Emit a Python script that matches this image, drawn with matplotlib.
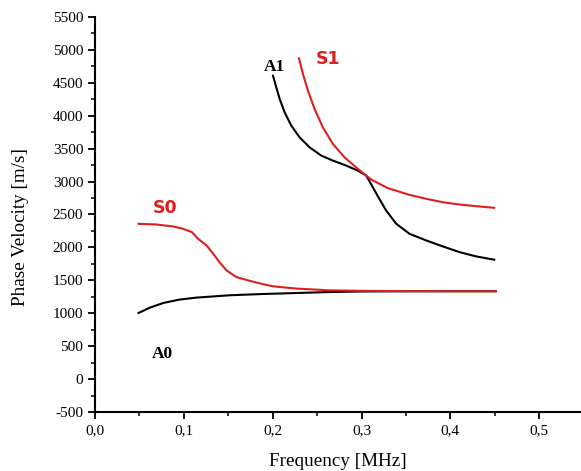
import matplotlib
matplotlib.use('Agg')
import matplotlib.pyplot as plt
from matplotlib.ticker import MultipleLocator, FixedLocator, FixedFormatter

plt.rcParams['font.family'] = 'Liberation Serif'
plt.rcParams['axes.unicode_minus'] = False

# Datos (frecuencia en MHz, velocidad de fase en m/s)
a0_f = [0.049, 0.062, 0.077, 0.095, 0.114, 0.152, 0.189, 0.227, 0.264, 0.30, 0.35, 0.40, 0.451]
a0_v = [1004, 1086, 1156, 1207, 1237, 1273, 1292, 1307, 1322, 1330, 1333, 1334, 1334]

s0_f = [0.049, 0.069, 0.088, 0.099, 0.109, 0.116, 0.1255, 0.133, 0.140, 0.148, 0.159,
        0.172, 0.185, 0.200, 0.227, 0.264, 0.30, 0.35, 0.40, 0.451]
s0_v = [2358, 2348, 2318, 2283, 2232, 2131, 2030, 1904, 1777, 1651, 1550,
        1500, 1455, 1409, 1374, 1348, 1340, 1336, 1334, 1334]

a1_f = [0.2004, 0.2041, 0.2079, 0.2135, 0.221, 0.2303, 0.2416, 0.2547, 0.2678, 0.2828,
        0.2959, 0.3053, 0.3127, 0.3184, 0.3277, 0.339, 0.3539, 0.3727, 0.3914, 0.4101,
        0.4289, 0.4494]
a1_v = [4606, 4428, 4253, 4050, 3848, 3671, 3519, 3394, 3318, 3242,
        3166, 3091, 2913, 2775, 2560, 2359, 2207, 2106, 2015, 1929,
        1863, 1813]

s1_f = [0.2296, 0.2341, 0.2397, 0.2472, 0.2565, 0.2678, 0.2809, 0.2959, 0.3109, 0.3296,
        0.3539, 0.3727, 0.3914, 0.4101, 0.4289, 0.4494]
s1_v = [4873, 4631, 4378, 4101, 3822, 3571, 3368, 3192, 3030, 2900,
        2798, 2738, 2686, 2651, 2626, 2601]

x_ticks = [0.0, 0.1, 0.2, 0.3, 0.4, 0.5]
x_labels = ['0,0', '0,1', '0,2', '0,3', '0,4', '0,5']

etiquetas = [('A1', 0.202, 4742, 'black', 'Liberation Serif'),
             ('S1', 0.262, 4863, '#dd1f1f', 'DejaVu Sans'),
             ('S0', 0.0787, 2591, '#dd1f1f', 'DejaVu Sans'),
             ('A0', 0.0764, 379, 'black', 'Liberation Serif')]

fig = plt.figure(figsize=(5.81, 4.71), dpi=100)
ax = fig.add_axes([0.1635, 0.1253, 0.8365, 0.8387])

ax.plot(a0_f, a0_v, color='black', lw=1.5)
ax.plot(s0_f, s0_v, color='#dd1f1f', lw=1.5)
ax.plot(a1_f, a1_v, color='black', lw=1.5)
ax.plot(s1_f, s1_v, color='#dd1f1f', lw=1.5)

for txt, x, y, col, fam in etiquetas:
    ax.text(x, y, txt, color=col, family=fam, fontsize=12.5, fontweight='bold',
            ha='center', va='center')

ax.set_xlim(0, 0.547)
ax.set_ylim(-500, 5500)
ax.xaxis.set_major_locator(FixedLocator(x_ticks))
ax.xaxis.set_major_formatter(FixedFormatter(x_labels))
ax.xaxis.set_minor_locator(MultipleLocator(0.05))
ax.yaxis.set_major_locator(MultipleLocator(500))
ax.yaxis.set_minor_locator(MultipleLocator(250))

for s in ['top', 'right']:
    ax.spines[s].set_visible(False)
for s in ['left', 'bottom']:
    ax.spines[s].set_linewidth(1.5)

ax.tick_params(which='major', direction='out', length=5, width=1.3, labelsize=11)
ax.tick_params(which='minor', direction='out', length=3, width=1.1)

ax.set_xlabel('Frequency [MHz]', fontsize=13.8, labelpad=12)
ax.set_ylabel('Phase Velocity [m/s]', fontsize=13.8, labelpad=8)
ax.yaxis.set_label_coords(-0.135, 0.468)

plt.savefig('out.png', dpi=100)
